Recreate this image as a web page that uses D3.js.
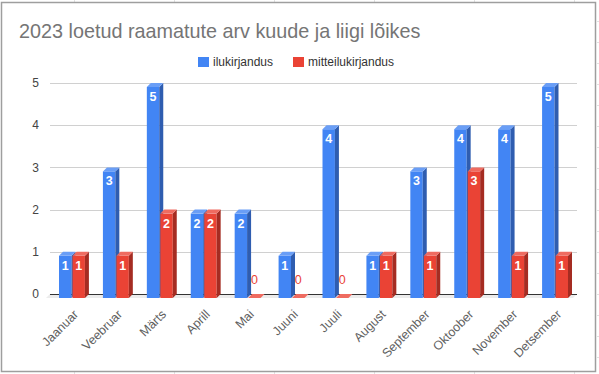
<!DOCTYPE html>
<html>
<head>
<meta charset="utf-8">
<script src="https://cdn.jsdelivr.net/npm/d3@7"></script>
<style>
    html, body { margin: 0; padding: 0; background: #fff; }
    svg { display: block; font-family: Arial, "Liberation Sans", sans-serif; }
</style>
</head>
<body>
<svg id="chart" width="599" height="374"></svg>
<script>
// === DATA ===

const months = ['Jaanuar', 'Veebruar', 'Märts', 'Aprill', 'Mai', 'Juuni',
    'Juuli', 'August', 'September', 'Oktoober', 'November', 'Detsember'];
const ilukirjandus = [1, 3, 5, 2, 2, 1, 4, 1, 3, 4, 4, 5];
const mitteilukirjandus = [1, 1, 2, 2, 0, 0, 0, 1, 1, 3, 1, 1];
const seriesNames = ['ilukirjandus', 'mitteilukirjandus'];
const yTicks = [0, 1, 2, 3, 4, 5];

// === CONSTANTS ===

const W = 599, H = 374;
const plot = { left: 50, right: 577, top: 83, bottom: 294 };
const DEPTH = 4;   // 3D offset (right / up)
const COLORS = {
    ilukirjandus:      { front: '#4285f4', side: '#2f5db0', top: '#6a9ef6' },
    mitteilukirjandus: { front: '#ea4335', side: '#a52c22', top: '#ef6b60' }
};

const svg = d3.select('#chart');

// === SPREADSHEET BACKGROUND (cells outside the chart frame) ===

const cellLines = svg.append('g').attr('stroke', '#e2e2e2').attr('stroke-width', 1);
[74, 174, 274, 374, 474, 574].forEach(x => {
    cellLines.append('line').attr('x1', x + 0.5).attr('x2', x + 0.5).attr('y1', 0).attr('y2', 2);
    cellLines.append('line').attr('x1', x + 0.5).attr('x2', x + 0.5).attr('y1', 372).attr('y2', H);
});
d3.range(21, H, 21).forEach(y => {
    cellLines.append('line').attr('x1', 597).attr('x2', W).attr('y1', y + 0.5).attr('y2', y + 0.5);
});

// chart frame
svg.append('rect')
    .attr('x', 1.5).attr('y', 2.5)
    .attr('width', 594).attr('height', 369)
    .attr('fill', '#fff')
    .attr('stroke', '#9e9e9e')
    .attr('stroke-width', 1.5);

// === TITLE & LEGEND ===

svg.append('text')
    .attr('x', 19).attr('y', 38)
    .attr('font-size', 19.8)
    .attr('fill', '#757575')
    .text('2023 loetud raamatute arv kuude ja liigi lõikes');

const legendX = [198, 293];
const legend = svg.selectAll('.legend-item')
    .data(seriesNames)
    .join('g')
    .attr('class', 'legend-item')
    .attr('transform', (d, i) => `translate(${legendX[i]}, 57)`);

legend.append('rect')
    .attr('width', 11).attr('height', 10)
    .attr('fill', d => COLORS[d].front);

legend.append('text')
    .attr('x', 15).attr('y', 9)
    .attr('font-size', 12)
    .attr('fill', '#333')
    .text(d => d);

// === SCALES ===

const x0 = d3.scaleBand()
    .domain(months)
    .range([plot.left, plot.right])
    .paddingInner(0.41)
    .paddingOuter(0.205);

const x1 = d3.scaleBand()
    .domain(seriesNames)
    .range([0, x0.bandwidth()])
    .paddingInner(0.08);

const y = d3.scaleLinear()
    .domain([0, 5])
    .range([plot.bottom, plot.top]);

// === GRID & AXES ===

// floor
svg.append('path')
    .attr('d', `M${plot.left},${plot.bottom} L${plot.right},${plot.bottom}
                L${plot.right - DEPTH},${plot.bottom + DEPTH} L${plot.left - DEPTH},${plot.bottom + DEPTH} Z`)
    .attr('fill', '#ececec');

svg.append('g')
    .selectAll('line')
    .data(yTicks.filter(t => t > 0))
    .join('line')
    .attr('x1', plot.left).attr('x2', plot.right)
    .attr('y1', d => Math.round(y(d)) + 0.5).attr('y2', d => Math.round(y(d)) + 0.5)
    .attr('stroke', '#d0d0d0');

svg.append('line')
    .attr('x1', plot.left).attr('x2', plot.right)
    .attr('y1', plot.bottom + 0.5).attr('y2', plot.bottom + 0.5)
    .attr('stroke', '#333');

svg.append('g')
    .selectAll('text')
    .data(yTicks)
    .join('text')
    .attr('x', 39)
    .attr('y', d => y(d))
    .attr('dy', '0.35em')
    .attr('text-anchor', 'end')
    .attr('font-size', 12)
    .attr('fill', '#444')
    .text(d => d);

svg.append('g')
    .selectAll('text')
    .data(months)
    .join('text')
    .attr('transform', d => `translate(${x0(d) + x0.bandwidth() / 2 + 4}, 312) rotate(-45)`)
    .attr('text-anchor', 'end')
    .attr('dy', '0.35em')
    .attr('font-size', 12.5)
    .attr('fill', '#5f5f5f')
    .text(d => d);

// === 3D BARS ===

const bars = [];
months.forEach((m, i) => {
    bars.push({ month: m, series: 'ilukirjandus', value: ilukirjandus[i] });
    bars.push({ month: m, series: 'mitteilukirjandus', value: mitteilukirjandus[i] });
});

const barG = svg.append('g')
    .selectAll('g')
    .data(bars)
    .join('g');

barG.each(function (d) {
    const g = d3.select(this);
    const w = x1.bandwidth();
    const xl = x0(d.month) + x1(d.series);
    const yt = y(d.value) + DEPTH;
    const yb = y(0) + DEPTH;
    const c = COLORS[d.series];

    if (d.value > 0) {
        // front face
        g.append('rect')
            .attr('x', xl).attr('y', yt)
            .attr('width', w).attr('height', yb - yt)
            .attr('fill', c.front);
        // side face
        g.append('path')
            .attr('d', `M${xl + w},${yt} L${xl + w + DEPTH},${yt - DEPTH}
                        L${xl + w + DEPTH},${yb - DEPTH} L${xl + w},${yb} Z`)
            .attr('fill', c.side);
    }
    // top face
    g.append('path')
        .attr('d', `M${xl},${yt} L${xl + DEPTH},${yt - DEPTH}
                    L${xl + w + DEPTH},${yt - DEPTH} L${xl + w},${yt} Z`)
        .attr('fill', c.top);

    // value label
    g.append('text')
        .attr('x', xl + w / 2)
        .attr('y', d.value > 0 ? yt + 14 : yt - 14)
        .attr('text-anchor', 'middle')
        .attr('font-size', 12.5)
        .attr('font-weight', d.value > 0 ? 'bold' : 'normal')
        .attr('fill', d.value > 0 ? '#fff' : c.front)
        .text(d.value);
});
</script>
</body>
</html>
